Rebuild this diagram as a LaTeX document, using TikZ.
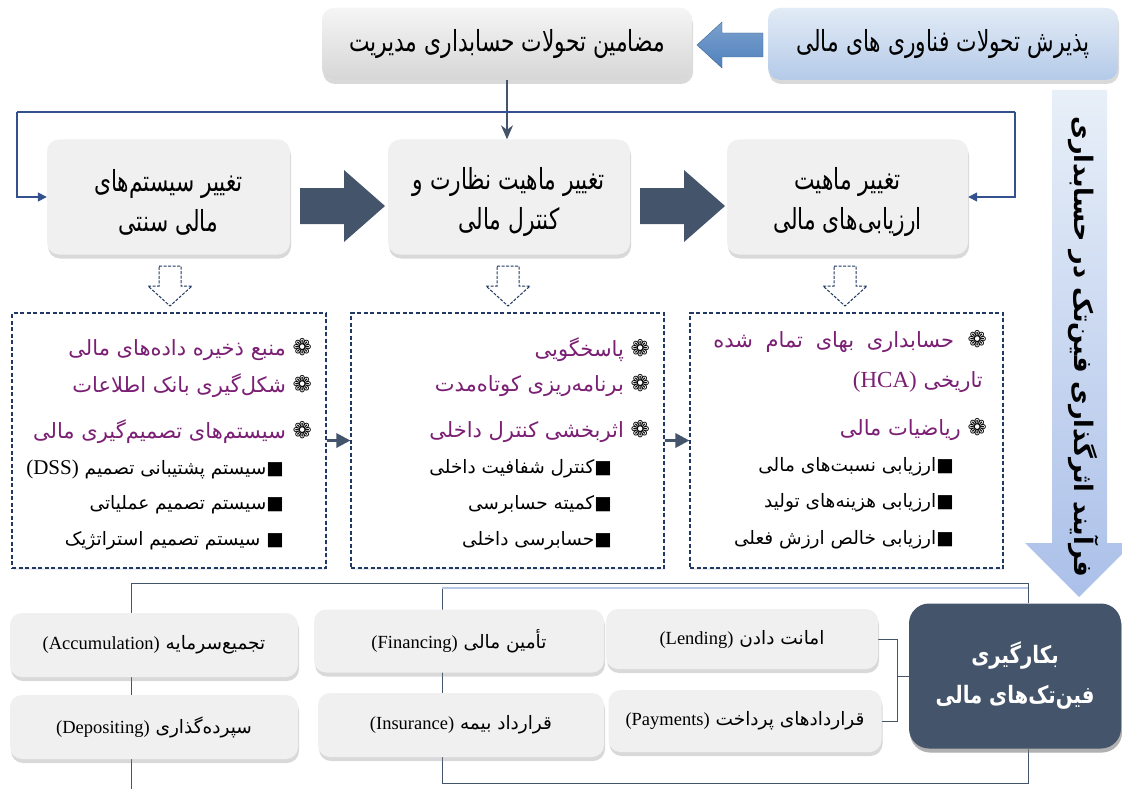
\documentclass[tikz,border=0pt]{standalone}
\usepackage{fontspec}
\setmainfont{Liberation Serif}
\newfontfamily\fa[Script=Arabic]{DejaVu Sans}
\newfontfamily\fac[Script=Arabic,FakeStretch=0.75]{DejaVu Sans}
\newfontfamily\fab[Script=Arabic,FakeStretch=0.82]{DejaVu Sans}
\newfontfamily\sym{DejaVu Sans}
\TeXXeTstate=1
\usetikzlibrary{shadows,arrows.meta,calc}
\pgfdeclarelayer{bg}
\pgfsetlayers{bg,main}
\definecolor{slate}{HTML}{44546A}
\definecolor{navy}{HTML}{1F3864}
\definecolor{linkblue}{HTML}{34518F}
\definecolor{purp}{HTML}{7B1F74}
\definecolor{boxgray}{HTML}{F0F0F0}
\definecolor{lbA}{HTML}{E2EBF6}
\definecolor{lbB}{HTML}{B4CAE8}
\definecolor{arrblue}{HTML}{4F81BD}
\definecolor{thinblue}{HTML}{B4C7E7}
\newcommand\myR[1]{\beginR#1\endR}
\newcommand\myL[1]{\beginL#1\endL}
\newcommand\flw{{\sym\fontsize{23}{24}\selectfont\color{black!70}❁}}
\newcommand\sqb{{\sym\color{black}■}}
\tikzset{
  shad/.style={drop shadow={shadow xshift=1pt,shadow yshift=-4pt,opacity=0.3}},
  gbox/.style={rounded corners=12pt,fill=boxgray,shad,align=center,inner sep=0pt},
  dbox/.style={draw=navy,line width=1.1pt,dash pattern=on 4pt off 2.5pt,fill=white,
    drop shadow={shadow xshift=1pt,shadow yshift=-2pt,opacity=0.15},inner sep=0pt},
  title/.style={align=center,inner sep=0pt,font=\fac\fontsize{29}{40}\selectfont},
  purpitem/.style={anchor=east,text=purp,inner sep=0pt,font=\fa\fontsize{21}{24}\selectfont},
  blkitem/.style={anchor=east,text=black,inner sep=0pt,font=\fa\fontsize{18.5}{22}\selectfont},
  small/.style={font=\fa\fontsize{18.5}{22}\selectfont},
  link/.style={draw=linkblue,line width=1.5pt},
  thinlink/.style={draw=slate,line width=0.9pt},
  openarrow/.style={draw=navy,line width=1pt,dash pattern=on 3pt off 1.5pt,fill=white},
}
\begin{document}
\begin{tikzpicture}[x=1pt,y=-1pt]
\useasboundingbox (0,0) rectangle (1122,789);

% ---- top row
\node[gbox,minimum width=350,minimum height=72,top color=lbA,bottom color=lbB,
  font=\fac\fontsize{29}{32}\selectfont] (topr) at (943,44)
  {\myR{پذیرش تحولات فناوری های مالی}};
\node[gbox,minimum width=370,minimum height=72,top color=white!96!black,bottom color=white!84!black,
  font=\fac\fontsize{29}{32}\selectfont] (topc) at (507,44)
  {\myR{مضامین تحولات حسابداری مدیریت}};
% blue left arrow
\shade[top color=arrblue!75!white,bottom color=arrblue,draw=arrblue!80!black,line width=0.4pt]
  (763,33) -- (722,33) -- (722,22) -- (697,45) -- (722,68) -- (722,57) -- (763,57) -- cycle;

% ---- title boxes
\node[gbox,minimum width=243,minimum height=115] (b1) at (168.5,197) {};
\node[gbox,minimum width=242,minimum height=115] (b2) at (509,197) {};
\node[gbox,minimum width=241,minimum height=115] (b3) at (847.5,197) {};
\node[title] (b1t) at ($(b1.center)+(0,5)$) {\myR{تغییر سیستم^^^^200cهای}\\\myR{مالی سنتی}};
\node[title] (b2t) at ($(b2.center)+(0,5)$) {\myR{تغییر ماهیت نظارت و}\\\myR{کنترل مالی}};
\node[title] (b3t) at ($(b3.center)+(0,5)$) {\myR{تغییر ماهیت}\\\myR{ارزیابی^^^^200cهای مالی}};

% connectors top
\draw[link,draw=slate,line width=1.3pt,-{Stealth[length=14pt,width=12pt]}] (topc.south) -- (topc.south |- b2.north);
\coordinate (lt) at (17,112);
\coordinate (rt) at (1015,112);
\draw[link] (lt) -- (rt);
\draw[link,-{Triangle[length=9pt,width=9pt]}] (lt) |- (b1.west);
\draw[link,-{Triangle[length=9pt,width=9pt]}] (rt) |- (b3.east);

% big dark arrows
\fill[slate] (300,188) -- (344,188) -- (344,170) -- (385,206) -- (344,242) -- (344,224) -- (300,224) -- cycle;
\fill[slate] (640,188) -- (684,188) -- (684,170) -- (725,206) -- (684,242) -- (684,224) -- (640,224) -- cycle;

% open dashed arrows
\foreach \c in {170,508,845}{
  \draw[openarrow] (\c-11,266) -- (\c+11,266) -- (\c+11,286) -- (\c+22,286) -- (\c,306) -- (\c-22,286) -- (\c-11,286) -- cycle;
}

% ---- dashed boxes
\node[dbox,minimum width=314,minimum height=255] (d1) at (169,440.5) {};
\node[dbox,minimum width=313,minimum height=255] (d2) at (507.5,440.5) {};
\node[dbox,minimum width=313,minimum height=255] (d3) at (846.5,440.5) {};
\draw[slate,line width=3pt,-{Triangle[length=14pt,width=14pt]}] (d1.east) -- (d2.west);
\draw[slate,line width=3pt,-{Triangle[length=14pt,width=14pt]}] (d2.east) -- (d3.west);

% d1 contents
\node[purpitem] (a1) at (312,350) {\myR{\flw\ منبع ذخیره داده^^^^200cهای مالی}};
\node[purpitem] (a2) at (312,386) {\myR{\flw\ شکل^^^^200cگیری بانک اطلاعات}};
\node[purpitem] (a3) at (312,432) {\myR{\flw\ سیستم^^^^200cهای تصمیم^^^^200cگیری مالی}};
\node[blkitem] (a4) at (284,469) {\myR{\sqb سیستم پشتیبانی تصمیم \myL{\rmfamily\fontsize{21}{22}\selectfont(DSS)}}};
\node[blkitem] (a5) at (284,505) {\myR{\sqb سیستم تصمیم عملیاتی}};
\node[blkitem] (a6) at (284,541) {\myR{\sqb\ سیستم تصمیم استراتژیک}};

% d2 contents
\node[purpitem] (m1) at (650,350) {\myR{\flw\ پاسخگویی}};
\node[purpitem] (m2) at (650,386) {\myR{\flw\ برنامه^^^^200cریزی کوتاه^^^^200cمدت}};
\node[purpitem] (m3) at (650,432) {\myR{\flw\ اثربخشی کنترل داخلی}};
\node[blkitem] (m4) at (612,469) {\myR{\sqb کنترل شفافیت داخلی}};
\node[blkitem] (m5) at (612,505) {\myR{\sqb کمیته حسابرسی}};
\node[blkitem] (m6) at (612,541) {\myR{\sqb حسابرسی داخلی}};

% d3 contents
\node[purpitem] (r1) at (987,342) {\myR{\flw\ \ حسابداری\hspace{6pt} بهای\hspace{6pt} تمام\hspace{6pt} شده}};
\node[purpitem] (r2) at (983,382) {\myR{تاریخی \myL{\rmfamily\fontsize{23}{24}\selectfont(HCA)}}};
\node[purpitem] (r3) at (987,430) {\myR{\flw\ ریاضیات مالی}};
\node[blkitem] (r4) at (954,467) {\myR{\sqb ارزیابی نسبت^^^^200cهای مالی}};
\node[blkitem] (r5) at (954,503) {\myR{\sqb ارزیابی هزینه^^^^200cهای تولید}};
\node[blkitem] (r6) at (954,540) {\myR{\sqb ارزیابی خالص ارزش فعلی}};

% ---- right vertical arrow
\shade[top color=lbA!80!white,bottom color=lbB!95!blue]
  (1052,90) -- (1107,90) -- (1107,543) -- (1133,543) -- (1079,597) -- (1025,543) -- (1052,543) -- cycle;
\node[rotate=-90,font=\fa\bfseries\fontsize{25.5}{28}\selectfont,inner sep=0pt] (vt) at (1084,347)
  {\myR{فرآیند اثرگذاری فین^^^^200cتک در حسابداری}};

% ---- bottom part
\node[gbox,fill=slate,rounded corners=20pt,minimum width=212,minimum height=145,text=white,
  font=\fab\bfseries\fontsize{24}{40}\selectfont,
  drop shadow={shadow xshift=1pt,shadow yshift=-4pt,opacity=0.45}] (fin) at (1015,676)
  {\myR{بکارگیری}\\\myR{فین^^^^200cتک^^^^200cهای مالی}};
\node[gbox,small,minimum width=272,minimum height=60] (lend) at (742,639)
  {\myR{امانت دادن \myL{\rmfamily(Lending)}}};
\node[gbox,small,minimum width=273,minimum height=62] (pay) at (745,721)
  {\myR{قراردادهای پرداخت \myL{\rmfamily(Payments)}}};
\node[gbox,small,minimum width=290,minimum height=63] (finan) at (459,641)
  {\myR{تأمین مالی \myL{\rmfamily(Financing)}}};
\node[gbox,small,minimum width=286,minimum height=64] (ins) at (461,725)
  {\myR{قرارداد بیمه \myL{\rmfamily(Insurance)}}};
\node[gbox,small,minimum width=288,minimum height=64] (acc) at (154,645)
  {\myR{تجمیع^^^^200cسرمایه \myL{\rmfamily(Accumulation)}}};
\node[gbox,small,minimum width=288,minimum height=64] (dep) at (154,727)
  {\myR{سپرده^^^^200cگذاری \myL{\rmfamily(Depositing)}}};

\begin{pgfonlayer}{bg}
  \coordinate (o1) at (1028,583);
  \coordinate (o2) at (131,583);
  \coordinate (o3) at (131,789);
  \draw[thinlink] (fin.north -| o1) -- (o1) -- (o2) -- (o3);
  \coordinate (i1) at (1028,783);
  \coordinate (i2) at (442,783);
  \coordinate (i3) at (442,588);
  \coordinate (i4) at (1028,588);
  \draw[thinlink] (fin.south -| i1) -- (i1) -- (i2) -- (i3);
  \draw[thinblue,line width=1.6pt] (i3) -- (i4);
  \coordinate (brk) at (897,0);
  \draw[thinlink] (lend.east) -| (brk |- fin.west) |- (pay.east);
  \draw[thinlink] (fin.west) -- (brk |- fin.west);
\end{pgfonlayer}
\end{tikzpicture}
\end{document}
